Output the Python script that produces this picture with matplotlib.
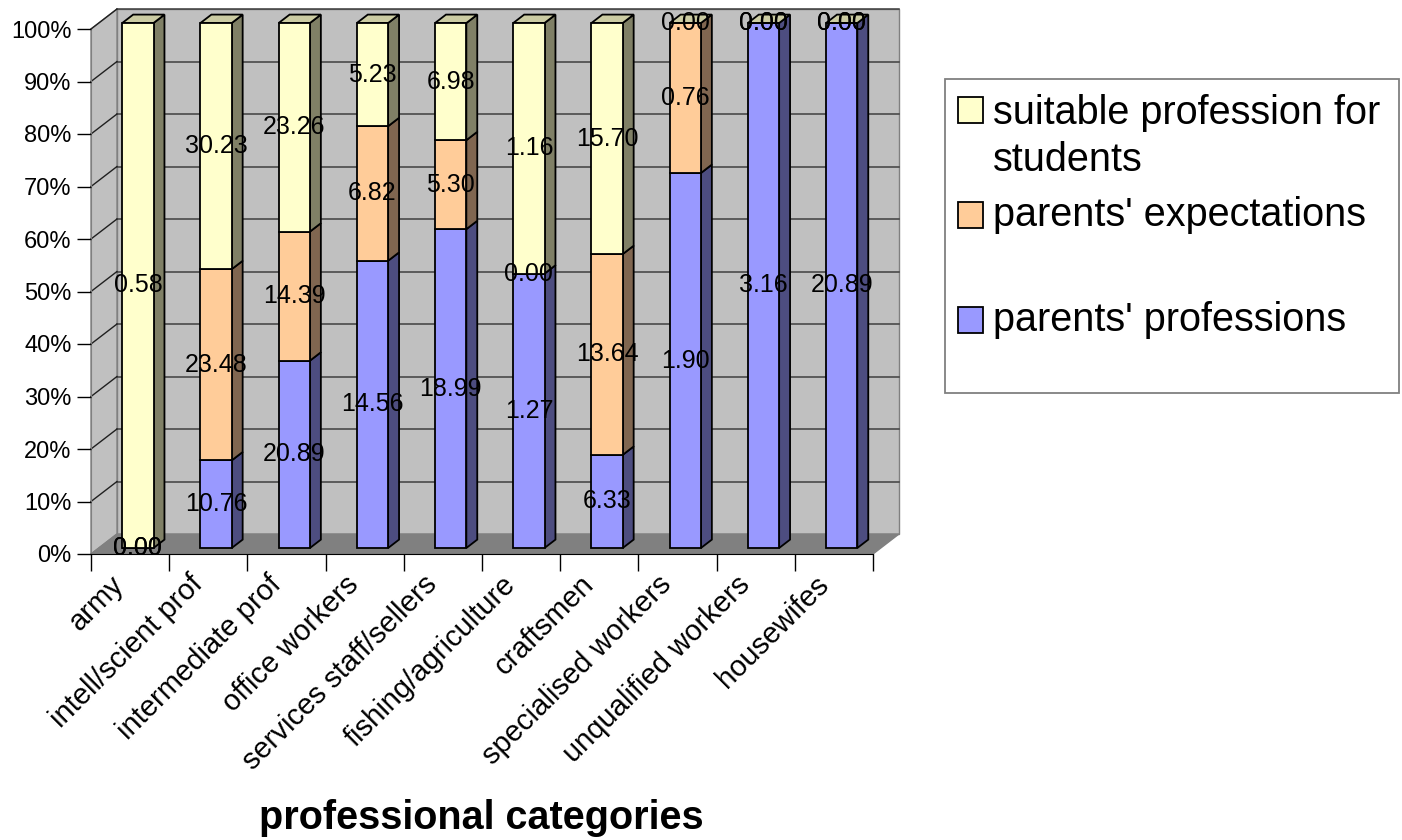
import matplotlib
matplotlib.use("Agg")
import matplotlib.pyplot as plt
import matplotlib.transforms as mtransforms
from matplotlib.patches import Polygon, Rectangle
import numpy as np

plt.rcParams['font.family'] = ['Liberation Sans', 'DejaVu Sans']

# data (raw values shown on the bars, bars are 100% stacked)
categories = ["army", "intell/scient prof", "intermediate prof", "office workers",
              "services staff/sellers", "fishing/agriculture", "craftsmen",
              "specialised workers", "unqualified workers", "housewifes"]
parents_prof = [0.00, 10.76, 20.89, 14.56, 18.99, 1.27, 6.33, 1.90, 3.16, 20.89]
parents_exp = [0.00, 23.48, 14.39, 6.82, 5.30, 0.00, 13.64, 0.76, 0.00, 0.00]
suitable = [0.58, 30.23, 23.26, 5.23, 6.98, 1.16, 15.70, 0.00, 0.00, 0.00]

series = [parents_prof, parents_exp, suitable]
names = ["parents' professions", "parents' expectations", "suitable profession for\nstudents"]
front_cols = ["#9999ff", "#ffcc99", "#ffffcc"]
side_cols = ["#4d4d80", "#806650", "#808066"]
top_col = "#cccca3"

W, H = 1402, 840
fig = plt.figure(figsize=(W / 100, H / 100), dpi=100)

# front plane of the plot area in pixels
x0, x1, y0, y1 = 91, 873, 554, 29
ax = fig.add_axes([x0 / W, 1 - y0 / H, (x1 - x0) / W, (y0 - y1) / H])
ax.set_xlim(-0.5, 9.5)
ax.set_ylim(0, 100)

# depth of the 3d box in data units
cat_px = (x1 - x0) / 10
pct_px = (y0 - y1) / 100
DX = 26 / cat_px
DY = 20 / pct_px


def dep(x, y, d):
    return (x + d * DX, y + d * DY)


# walls and floor
back = Rectangle(dep(-0.5, 0, 1), 10, 100, facecolor="#c0c0c0", edgecolor="#808080",
                 lw=1, clip_on=False, zorder=0)
ax.add_patch(back)
side = Polygon([(-0.5, 0), (-0.5, 100), dep(-0.5, 100, 1), dep(-0.5, 0, 1)],
               facecolor="#c0c0c0", edgecolor="#808080", lw=1, clip_on=False, zorder=0)
ax.add_patch(side)
floor = Polygon([(-0.5, 0), (9.5, 0), dep(9.5, 0, 1), dep(-0.5, 0, 1)],
                facecolor="#808080", edgecolor="#808080", lw=1, clip_on=False, zorder=0.5)
ax.add_patch(floor)

# gridlines
for g in range(10, 101, 10):
    bx, by = dep(-0.5, g, 1)
    ax.plot([bx, bx + 10], [by, by], color="#404040", lw=1.1, clip_on=False, zorder=1)
    ax.plot([-0.5, bx], [g, by], color="#202020", lw=1.0, clip_on=False, zorder=1)

# bars
idx = np.arange(len(categories))
totals = np.sum(series, axis=0)
bw = 0.4
df, db = 0.3, 0.72
bottom = np.zeros(len(categories))
for k, vals in enumerate(series):
    vals = np.array(vals)
    pct = np.where(totals > 0, vals / totals * 100, 0)
    fx, fy = dep(idx, bottom, df)
    ax.bar(fx, pct, bottom=fy, width=bw, color=front_cols[k], edgecolor="black",
           lw=1.3, zorder=3, clip_on=False)
    for i in idx:
        if pct[i] <= 0:
            continue
        xr = i + bw / 2
        b, t = bottom[i], bottom[i] + pct[i]
        poly = [dep(xr, b, df), dep(xr, t, df), dep(xr, t, db), dep(xr, b, db)]
        ax.add_patch(Polygon(poly, facecolor=side_cols[k], edgecolor="black",
                             lw=1.3, zorder=2.5, clip_on=False))
    for i in idx:
        ax.text(fx[i], fy[i] + pct[i] / 2, f"{vals[i]:.2f}", ha="center", va="center",
                fontsize=18, zorder=10, clip_on=False)
    bottom = bottom + pct

# top faces
for i in idx:
    xl, xr = i - bw / 2, i + bw / 2
    poly = [dep(xl, bottom[i], df), dep(xr, bottom[i], df),
            dep(xr, bottom[i], db), dep(xl, bottom[i], db)]
    ax.add_patch(Polygon(poly, facecolor=top_col, edgecolor="black", lw=1.3,
                         zorder=2.6, clip_on=False))

# axes
for s in ["top", "right"]:
    ax.spines[s].set_visible(False)
ax.spines["left"].set_color("#808080")
ax.spines["bottom"].set_color("black")
ax.spines["left"].set_zorder(1)
ax.set_facecolor("none")
ax.set_yticks(range(0, 101, 10))
ax.set_yticklabels([f"{v}%" for v in range(0, 101, 10)], fontsize=17)
ax.tick_params(axis="y", length=10, width=1, pad=4, color="black")
ax.set_xticks(idx)
ax.set_xticklabels(categories, rotation=45, ha="right", va="center",
                   rotation_mode="anchor", fontsize=21)
ax.tick_params(axis="x", which="major", length=0, pad=16)
ax.set_xticks(np.arange(-0.5, 10, 1), minor=True)
ax.tick_params(axis="x", which="minor", length=12, width=1, color="black")
shift = mtransforms.ScaledTranslation(-10 / 100, -4 / 100, fig.dpi_scale_trans)
for lab in ax.get_xticklabels():
    lab.set_transform(lab.get_transform() + shift)

fig.text(481 / W, 1 - 818 / H, "professional categories", ha="center", va="center",
         fontsize=28.5, fontweight="bold")

# legend
fig.patches.append(Rectangle((945 / W, 1 - 393 / H), (1399 - 945) / W, (393 - 79) / H,
                             transform=fig.transFigure, facecolor="white",
                             edgecolor="#808080", lw=1.3))
leg_marker_y = [320, 215, 110]
leg_text_y = [[320], [215], [113, 160]]
for k in [2, 1, 0]:
    my = leg_marker_y[k]
    fig.patches.append(Rectangle((958 / W, 1 - (my + 13) / H), 25 / W, 26 / H,
                                 transform=fig.transFigure, facecolor=front_cols[k],
                                 edgecolor="black", lw=1.3))
    for line, ty in zip(names[k].split("\n"), leg_text_y[k]):
        fig.text(993 / W, 1 - ty / H, line, ha="left", va="center", fontsize=28.5)

fig.savefig("out.png", dpi=100)
